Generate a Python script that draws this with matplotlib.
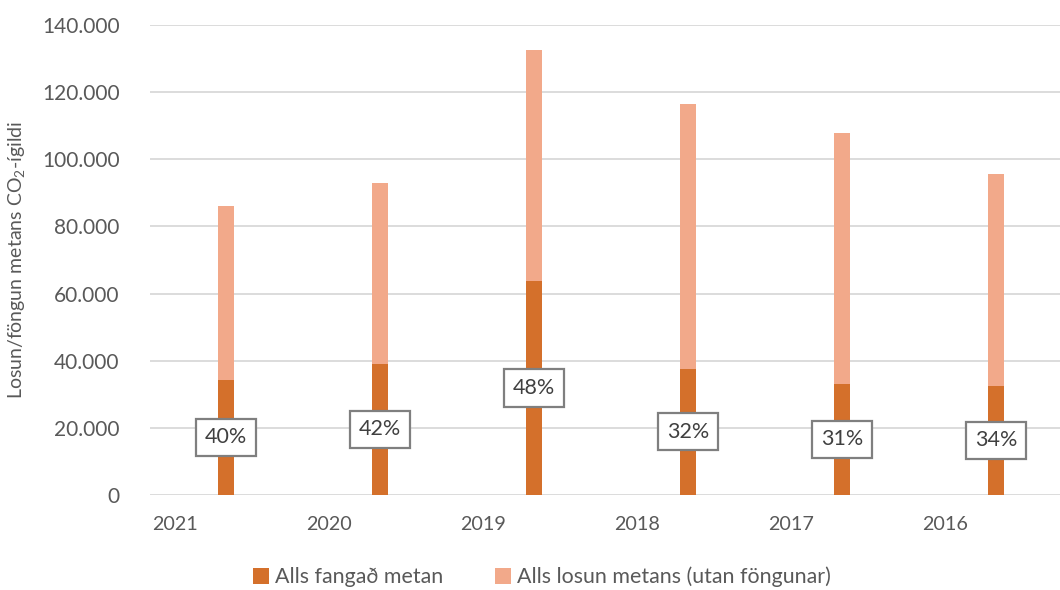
import matplotlib
matplotlib.use("Agg")
import matplotlib.pyplot as plt
import numpy as np

plt.rcParams["font.family"] = ["Lato", "DejaVu Sans"]
plt.rcParams["mathtext.fontset"] = "custom"
plt.rcParams["mathtext.rm"] = "Lato"
plt.rcParams["mathtext.it"] = "Lato"

years = ["2021", "2020", "2019", "2018", "2017", "2016"]
fangad = [34300, 39100, 63800, 37600, 33200, 32500]
losun_total = [86000, 93000, 132600, 116500, 107700, 95500]
hlutfall = ["40%", "42%", "48%", "32%", "31%", "34%"]

DARK = "#D4702B"
LIGHT = "#F2A98A"
GRID = "#D9D9D9"
TXT = "#595959"

utan = [t - f for t, f in zip(losun_total, fangad)]
x = np.arange(len(years))

fig = plt.figure(figsize=(10.6, 5.9), dpi=100)
ax = fig.add_axes([150 / 1060, 1 - 495 / 590, 910 / 1060, 470 / 590])

ax.bar(x, fangad, width=0.105, color=DARK, label="Alls fangað metan", zorder=3)
ax.bar(x, utan, bottom=fangad, width=0.105, color=LIGHT,
       label="Alls losun metans (utan föngunar)", zorder=3)

for xi, f, p in zip(x, fangad, hlutfall):
    ax.text(xi, f / 2, p, ha="center", va="center", fontsize=15.5, color="#404040",
            zorder=5,
            bbox=dict(boxstyle="square,pad=0.4", fc="white", ec="#7F7F7F", lw=1.6))

ax.set_xlim(-0.494, 5.416)
ax.set_ylim(0, 140000)
yt = np.arange(0, 140001, 20000)
ax.set_yticks(yt)
ax.set_yticklabels([f"{v:,}".replace(",", ".") for v in yt])
ax.set_xticks(x - 0.33)
ax.set_xticklabels(years)
ax.tick_params(axis="both", length=0, labelcolor=TXT)
ax.tick_params(axis="y", pad=22, labelsize=15)
ax.tick_params(axis="x", pad=15, labelsize=14.2)
ax.grid(axis="y", color=GRID, lw=1.3, zorder=0)
for s in ax.spines.values():
    s.set_visible(False)

ax.set_ylabel(r"Losun/föngun metans CO$_2$-ígildi", fontsize=14, color=TXT)
ax.yaxis.set_label_coords(-0.135, 0.5)

fig.legend(loc="center", bbox_to_anchor=(542 / 1060, 1 - 577 / 590), ncol=2, frameon=False,
           fontsize=15.4, labelcolor=TXT, handlelength=0.75, handleheight=0.75,
           handletextpad=0.3, columnspacing=2.4)

fig.savefig("out.png", dpi=100)
